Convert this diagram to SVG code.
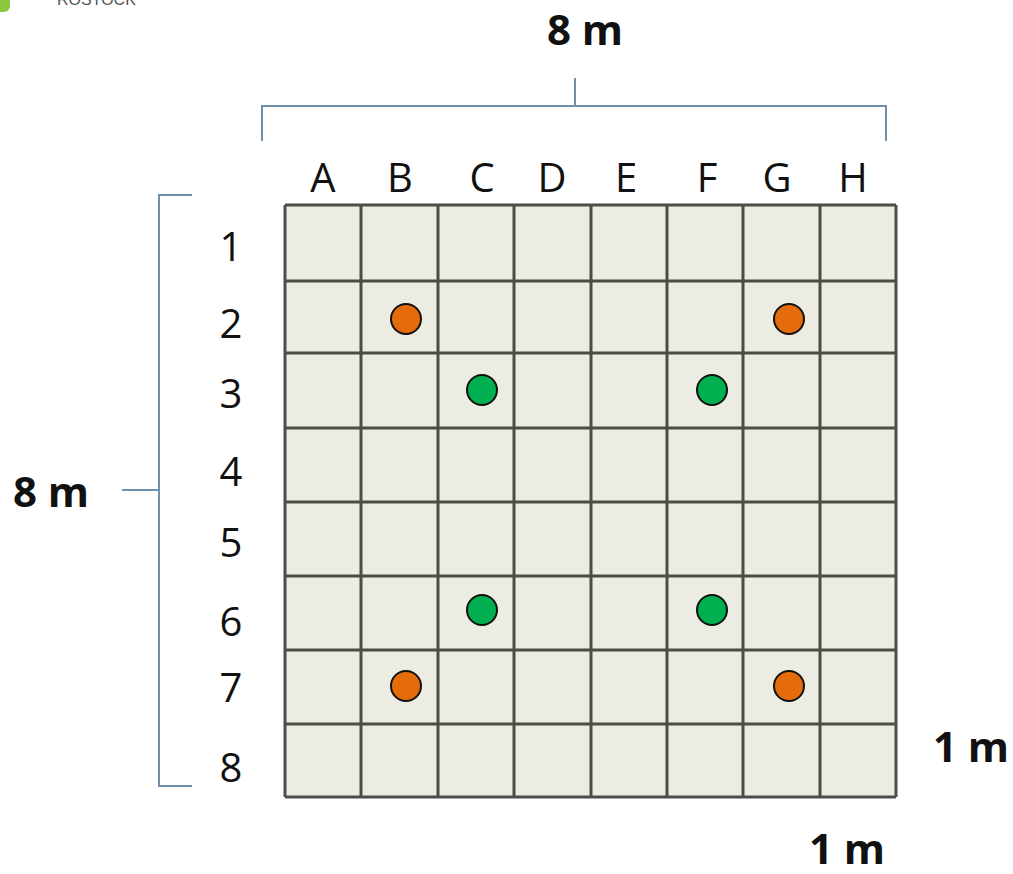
<svg xmlns="http://www.w3.org/2000/svg" width="1013" height="874" viewBox="0 0 1013 874">
<style>
.lbl{font-family:"Open Sans","Liberation Sans",sans-serif;font-size:40px;fill:#111;text-anchor:middle}
.dim{font-family:"Open Sans","Liberation Sans",sans-serif;font-size:42px;font-weight:bold;fill:#111;text-anchor:middle}
.br{fill:none;stroke:#6f8fae;stroke-width:2}
.gl{stroke:#4d4d48;stroke-width:3;fill:none}
.o{fill:#e46c0a;stroke:#111;stroke-width:2}
.g{fill:#00b050;stroke:#111;stroke-width:2}
</style>
<rect width="1013" height="874" fill="#fff"/>
<g id="logo">
<rect x="-10" y="-10" width="20" height="22" rx="6" fill="#8dc63f"/>
<text x="57" y="5" font-family="Liberation Sans,sans-serif" font-size="16" fill="#555">ROSTOCK</text>
</g>
<g id="grid">
<rect x="285" y="205" width="611" height="592" fill="#edece2"/>
<path class="gl" d="M285 205V797M361 205V797M438 205V797M514 205V797M591 205V797M667 205V797M743 205V797M820 205V797M896 205V797M285 205H896M285 281H896M285 353H896M285 428H896M285 502H896M285 576H896M285 650H896M285 724H896M285 797H896"/>
</g>
<g id="dots">
<circle class="o" cx="406" cy="319" r="15"/>
<circle class="o" cx="789" cy="319" r="15"/>
<circle class="o" cx="406" cy="686" r="15"/>
<circle class="o" cx="789" cy="686" r="15"/>
<circle class="g" cx="482" cy="390" r="15"/>
<circle class="g" cx="712" cy="390" r="15"/>
<circle class="g" cx="482" cy="610" r="15"/>
<circle class="g" cx="712" cy="610" r="15"/>
</g>
<g id="brackets">
<path class="br" d="M262 141V106H886V141M575 106V78"/>
<path class="br" d="M192 195H159V786H192M159 490H122"/>
</g>
<g id="cols">
<text class="lbl" x="323" y="192">A</text>
<text class="lbl" x="400" y="192">B</text>
<text class="lbl" x="482" y="192">C</text>
<text class="lbl" x="552" y="192">D</text>
<text class="lbl" x="626" y="192">E</text>
<text class="lbl" x="707" y="192">F</text>
<text class="lbl" x="777" y="192">G</text>
<text class="lbl" x="853" y="192">H</text>
</g>
<g id="rows">
<text class="lbl" x="231" y="261">1</text>
<text class="lbl" x="231" y="338">2</text>
<text class="lbl" x="231" y="408">3</text>
<text class="lbl" x="231" y="486">4</text>
<text class="lbl" x="231" y="557">5</text>
<text class="lbl" x="231" y="636">6</text>
<text class="lbl" x="231" y="702">7</text>
<text class="lbl" x="231" y="782">8</text>
</g>
<g id="dims">
<text class="dim" x="585" y="45">8 m</text>
<text class="dim" x="51" y="507">8 m</text>
<text class="dim" x="971" y="762">1 m</text>
<text class="dim" x="847" y="864">1 m</text>
</g>
</svg>
